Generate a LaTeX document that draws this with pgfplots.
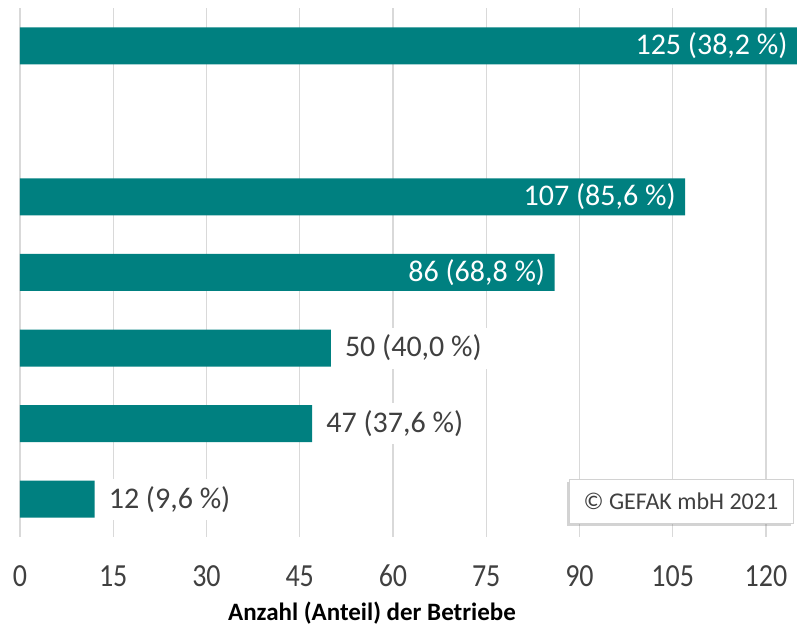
\documentclass[border=0pt]{standalone}
\usepackage{fontspec}
\setmainfont{Carlito}
\usepackage{graphicx}
\usepackage{pgfplots}
\pgfplotsset{compat=1.18}
\usetikzlibrary{shadows}
\definecolor{barteal}{RGB}{0,128,128}
\definecolor{gridgray}{RGB}{217,217,217}
\definecolor{txtgray}{RGB}{64,64,64}
\begin{document}
\begin{tikzpicture}
\begin{axis}[
 at={(0,0)}, anchor=south west,
 scale only axis, width=777pt, height=529pt,
 xbar, bar width=37pt, bar shift=0pt,
 xmin=0, xmax=125, ymin=0.5, ymax=7.5,
 xtick={0,15,...,120}, ytick=\empty,
 xticklabel={\scalebox{1}[1.15]{\pgfmathprintnumber{\tick}}},
 xmajorgrids, major grid style={gridgray, line width=1.2pt},
 axis line style={draw=none},
 major tick length=0pt,
 tick label style={font=\fontsize{28}{30}\selectfont, text=txtgray},
 xticklabel style={anchor=base, yshift=-50pt},
 /pgf/number format/assume math mode=true,
 xlabel={\textbf{Anzahl (Anteil) der Betriebe}},
 xlabel style={at={(axis description cs:0.453,0)}, anchor=base, yshift=-84pt, font=\fontsize{25}{28}\selectfont},
 point meta=explicit symbolic,
 nodes near coords,
 clip=false,
]
\addplot[fill=barteal, draw=none, every node near coord/.append style={anchor=east, text=white, font=\fontsize{30}{32}\selectfont, xshift=-6pt}] coordinates {(125,7) [125 (38,2 \%)] (107,5) [107 (85,6 \%)] (86,4) [86 (68,8 \%)]};
\addplot[fill=barteal, draw=none, every node near coord/.append style={anchor=west, text=txtgray, fill=white, font=\fontsize{30}{32}\selectfont, xshift=8pt, inner xsep=6pt, minimum height=41pt}] coordinates {(50,3) [50 (40,0 \%)] (47,2) [47 (37,6 \%)] (12,1) [12 (9,6 \%)]};
\node[draw=gray!35, fill=white, drop shadow={shadow xshift=-2pt, shadow yshift=-3pt, opacity=0.35}, minimum width=224pt, minimum height=44pt, anchor=south east, font=\fontsize{24}{26}\selectfont, text=txtgray] at (rel axis cs:0.995,0.026) {© GEFAK mbH 2021};
\end{axis}
\pgfresetboundingbox
\path[use as bounding box] (-20pt,-91pt) rectangle (777pt,537pt);
\end{tikzpicture}
\end{document}
